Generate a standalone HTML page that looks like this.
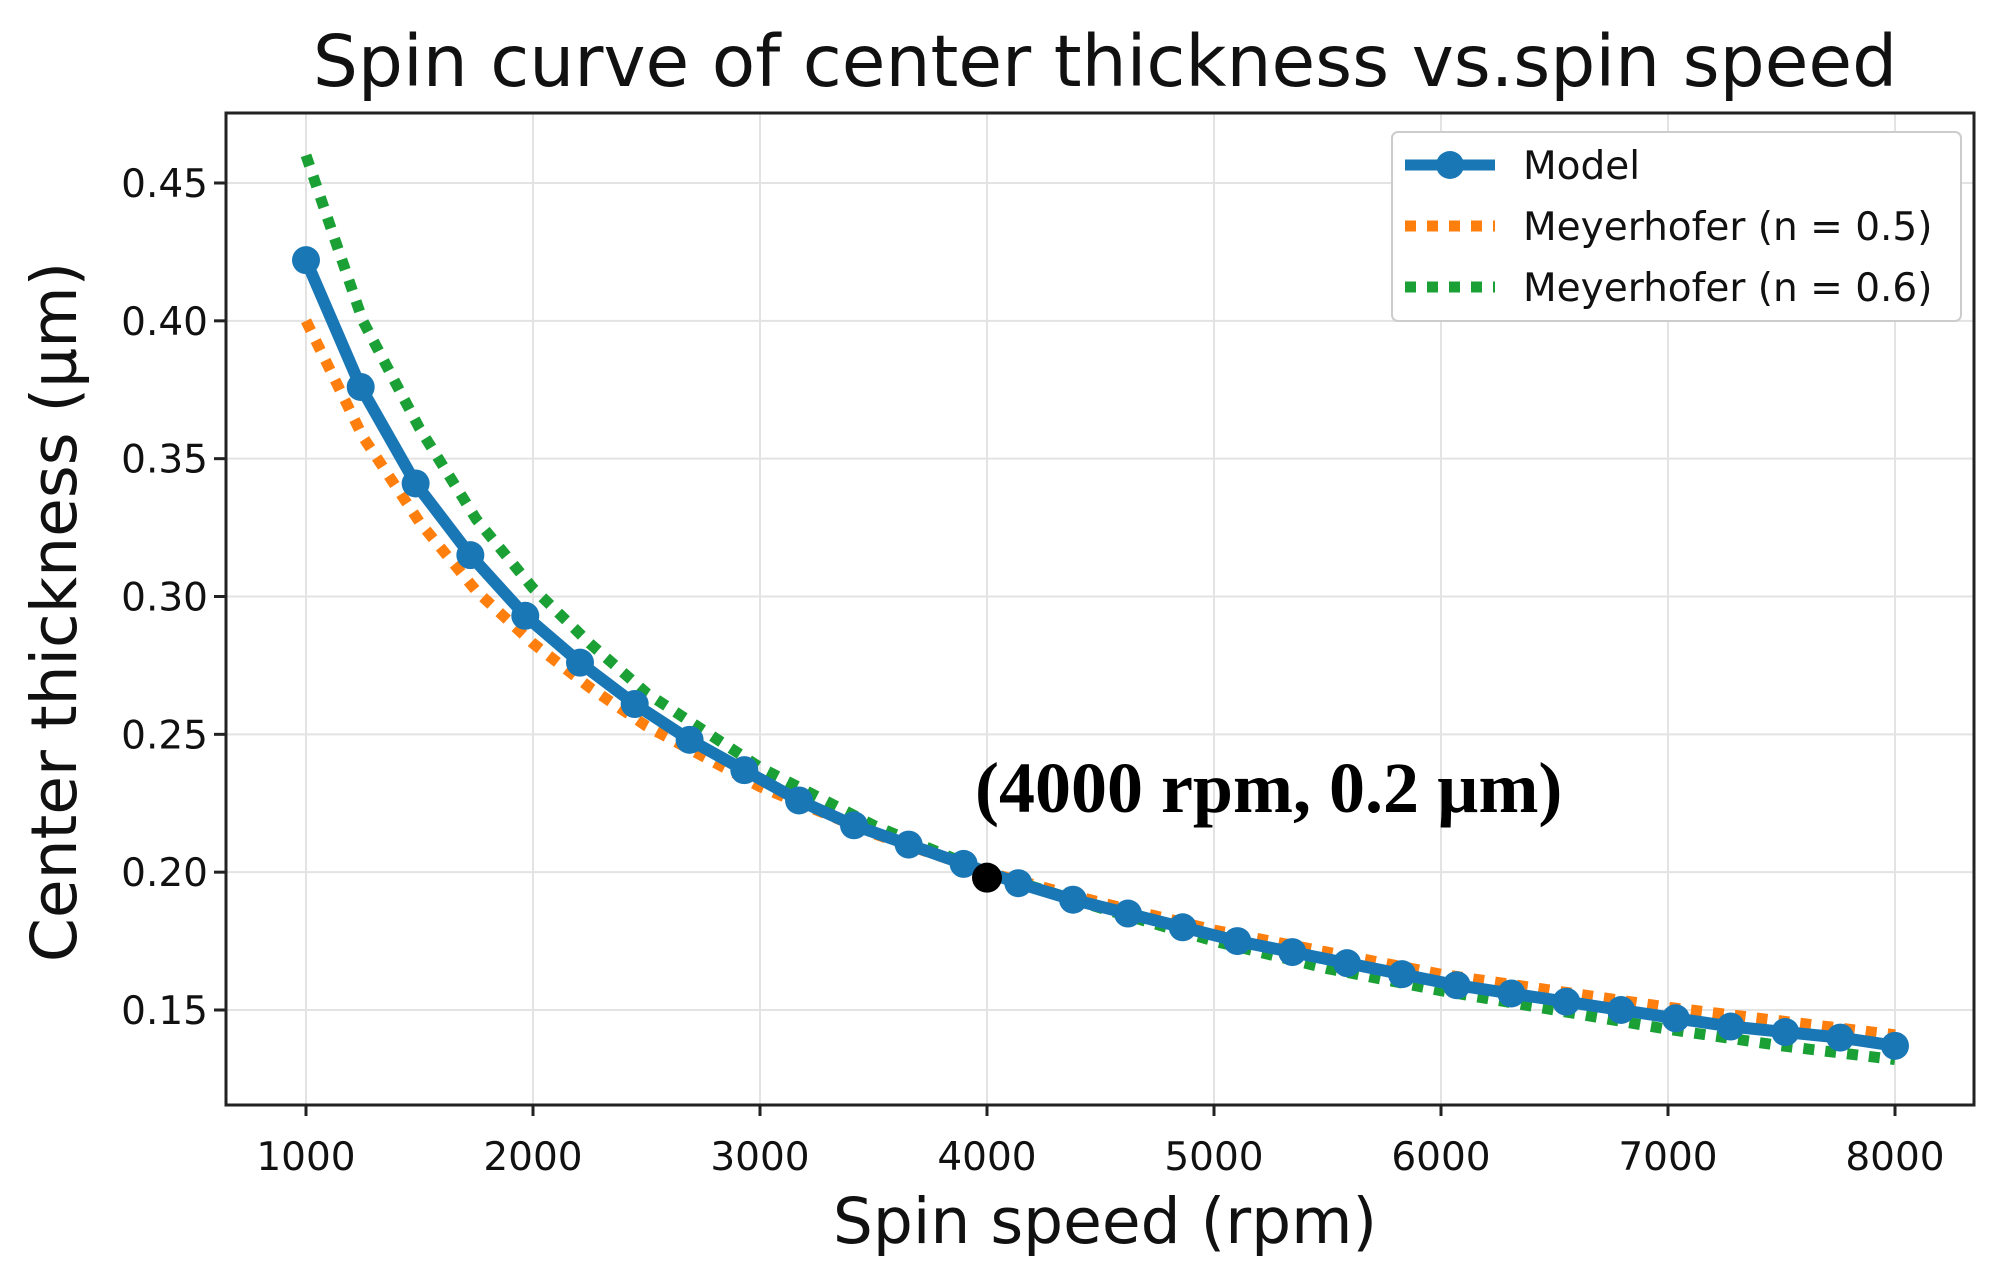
<!DOCTYPE html>
<html><head><meta charset="utf-8"><style>
body{margin:0;background:#fff}
svg{display:block;font-family:"DejaVu Sans","Liberation Sans",sans-serif}
</style></head><body>
<svg id="chart" width="2002" height="1283" viewBox="0 0 2002 1283" xmlns="http://www.w3.org/2000/svg">
<rect width="2002" height="1283" fill="#fff"/>
<text x="1105" y="86" font-size="71" text-anchor="middle" fill="#111">Spin curve of center thickness vs.spin speed</text>
<g id="grid"></g>
<g id="series"></g>
<rect x="226" y="113" width="1748" height="992" fill="none" stroke="#222" stroke-width="3"/>
<g id="ticks"></g>
<text x="1105" y="1243" font-size="63" text-anchor="middle" fill="#111">Spin speed (rpm)</text>
<text transform="translate(76,612) rotate(-90)" font-size="63" text-anchor="middle" fill="#111">Center thickness (µm)</text>
<text x="975" y="812" font-size="72" font-weight="bold" font-family="'Liberation Serif',serif" fill="#000">(4000 rpm, 0.2 µm)</text>
<g>
<rect x="1392" y="132" width="569" height="189" rx="6" fill="#fff" stroke="#ccc" stroke-width="2"/>
<line x1="1405" y1="165" x2="1495" y2="165" stroke="#1a77b6" stroke-width="11"/>
<circle cx="1450" cy="165" r="14" fill="#1a77b6"/>
<text x="1523" y="179" font-size="39" fill="#111">Model</text>
<line x1="1405" y1="226" x2="1495" y2="226" stroke="#ff7f0e" stroke-width="11" stroke-dasharray="11 11"/>
<text x="1523" y="240" font-size="39" fill="#111">Meyerhofer (n = 0.5)</text>
<line x1="1405" y1="287" x2="1495" y2="287" stroke="#1aa035" stroke-width="11" stroke-dasharray="11 11"/>
<text x="1523" y="301" font-size="39" fill="#111">Meyerhofer (n = 0.6)</text>
</g>
</svg>
<script>
const modelX=[1000,1241,1483,1724,1966,2207,2448,2690,2931,3172,3414,3655,3897,4138,4379,4621,4862,5103,5345,5586,5828,6069,6310,6552,6793,7034,7276,7517,7759,8000];
const modelY=[0.422,0.376,0.341,0.315,0.293,0.276,0.261,0.248,0.237,0.226,0.217,0.210,0.203,0.196,0.190,0.185,0.180,0.175,0.171,0.167,0.163,0.159,0.156,0.153,0.150,0.147,0.144,0.142,0.140,0.137];
const fitX=[1000,1250,1500,1750,2000,2250,2500,3000,3500,4000,4500,5000,5500,6000,6500,7000,7500,8000];
const fit05=[0.400,0.358,0.327,0.302,0.283,0.267,0.253,0.231,0.214,0.200,0.189,0.179,0.171,0.163,0.157,0.151,0.146,0.141];
const fit06=[0.460,0.400,0.361,0.328,0.303,0.283,0.265,0.238,0.217,0.200,0.187,0.175,0.165,0.157,0.150,0.143,0.137,0.132];
const xTicks=[1000,2000,3000,4000,5000,6000,7000,8000];
const yTicks=[0.15,0.20,0.25,0.30,0.35,0.40,0.45];
const highlight=[4000,0.198];
const NS='http://www.w3.org/2000/svg';
const X=v=>306+(v-1000)*(1895-306)/7000;
const Y=v=>1010-(v-0.15)*(1010-183)/0.30;
function mk(tag,attrs,parent){const e=document.createElementNS(NS,tag);for(const k in attrs)e.setAttribute(k,attrs[k]);parent.appendChild(e);return e;}
const grid=document.getElementById('grid'),ticks=document.getElementById('ticks'),series=document.getElementById('series');
xTicks.forEach(t=>{
 const g=mk('line',{x1:X(t),x2:X(t),y1:113,y2:1105,stroke:'#e3e3e3','stroke-width':2},grid);
 
 
 const tk=mk('line',{x1:X(t),x2:X(t),y1:1105,y2:1116,stroke:'#222','stroke-width':3},ticks);
 
 
 const l=mk('text',{x:X(t),y:1170,'font-size':39,'text-anchor':'middle',fill:'#111'},ticks);
 l.textContent=t;
 
 
});
yTicks.forEach(t=>{
 const g=mk('line',{x1:226,x2:1974,y1:Y(t),y2:Y(t),stroke:'#e3e3e3','stroke-width':2},grid);
 
 
 const tk=mk('line',{x1:214,x2:226,y1:Y(t),y2:Y(t),stroke:'#222','stroke-width':3},ticks);
 
 
 const l=mk('text',{x:208,y:Y(t)+14,'font-size':39,'text-anchor':'end',fill:'#111'},ticks);
 l.textContent=t.toFixed(2);
 
 
});
function pts(xs,ys){return xs.map((x,i)=>X(x).toFixed(1)+','+Y(ys[i]).toFixed(1)).join(' ');}
const o=mk('polyline',{points:pts(fitX,fit05),fill:'none',stroke:'#ff7f0e','stroke-width':11,'stroke-dasharray':'11 11'},series);


const gr=mk('polyline',{points:pts(fitX,fit06),fill:'none',stroke:'#1aa035','stroke-width':11,'stroke-dasharray':'11 11'},series);


const m=mk('polyline',{points:pts(modelX,modelY),fill:'none',stroke:'#1a77b6','stroke-width':12,'stroke-linejoin':'round'},series);


modelX.forEach((x,i)=>{
 const c=mk('circle',{cx:X(x),cy:Y(modelY[i]),r:14,fill:'#1a77b6'},series);
 
 
});
const h=mk('circle',{cx:X(highlight[0]),cy:Y(highlight[1]),r:15,fill:'#000'},series);


</script>
</body></html>
